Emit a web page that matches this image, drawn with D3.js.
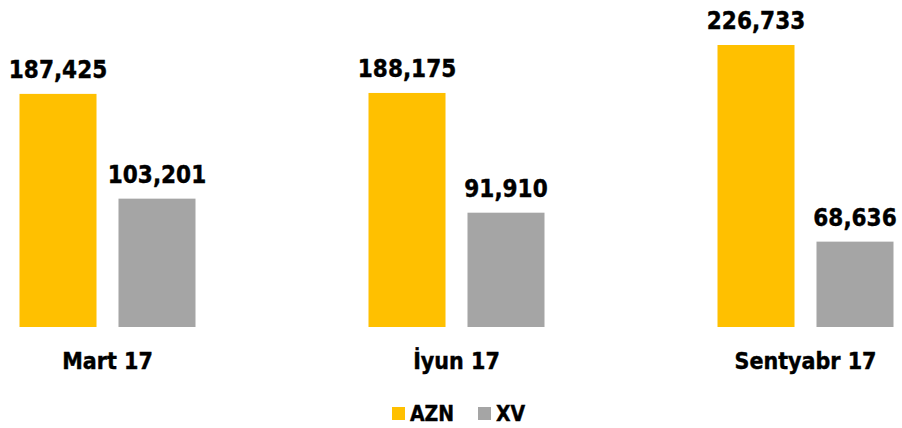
<!DOCTYPE html>
<html>
<head>
<meta charset="utf-8">
<script src="https://cdn.jsdelivr.net/npm/d3@7"></script>
<style>
  body { margin: 0; background: #fff; }
  text { font-family: "DejaVu Sans Condensed", "DejaVu Sans", sans-serif; font-weight: bold; fill: #000; stroke: #000; stroke-width: 0.4px; }
</style>
</head>
<body>
<div id="chart"></div>
<script>
var width = 902,
    height = 428;

var categories = ["Mart 17", "İyun 17", "Sentyabr 17"];
var seriesNames = ["AZN", "XV"];
var aznValues = [187425, 188175, 226733];
var xvValues = [103201, 91910, 68636];
var colors = ["#FFC000", "#A5A5A5"];

var rows = categories.map(function (c, i) {
  return { cat: c, values: [aznValues[i], xvValues[i]] };
});

var svg = d3.select("#chart").append("svg")
    .attr("width", width)
    .attr("height", height);

// group centres, then the two bars inside each group
var x = d3.scalePoint()
    .domain(categories)
    .range([107.5, 805.5]);

var xSub = d3.scaleBand()
    .domain(seriesNames)
    .range([-88, 88])
    .paddingInner(0.222);

var y = d3.scaleLinear()
    .domain([0, 226733])
    .range([327, 45]);

var fmt = d3.format(",");

var groups = svg.selectAll("g.group")
  .data(rows)
  .enter().append("g")
    .attr("class", "group")
    .attr("transform", function (d) { return "translate(" + x(d.cat) + ",0)"; });

var bars = groups.selectAll("g.bar")
  .data(function (d) { return d.values.map(function (v, i) { return { name: seriesNames[i], value: v, i: i }; }); })
  .enter().append("g")
    .attr("class", "bar");

bars.append("rect")
    .attr("x", function (d) { return xSub(d.name); })
    .attr("y", function (d) { return y(d.value); })
    .attr("width", xSub.bandwidth())
    .attr("height", function (d) { return y(0) - y(d.value); })
    .attr("fill", function (d) { return colors[d.i]; });

bars.append("text")
    .attr("x", function (d) { return xSub(d.name) + xSub.bandwidth() / 2; })
    .attr("y", function (d) { return y(d.value) - 16; })
    .attr("text-anchor", "middle")
    .style("font-size", "24px")
    .text(function (d) { return fmt(d.value); });

// category labels
groups.append("text")
    .attr("x", 0)
    .attr("y", 369)
    .attr("text-anchor", "middle")
    .style("font-size", "23px")
    .text(function (d) { return d.cat; });

// legend
var legend = svg.append("g").attr("transform", "translate(392,407)");
var legendX = [0, 86];
var items = legend.selectAll("g")
  .data(seriesNames)
  .enter().append("g")
    .attr("transform", function (d, i) { return "translate(" + legendX[i] + ",0)"; });

items.append("rect")
    .attr("width", 13)
    .attr("height", 13)
    .attr("fill", function (d, i) { return colors[i]; });

items.append("text")
    .attr("x", 18)
    .attr("y", 14)
    .style("font-size", "21px")
    .text(function (d) { return d; });
</script>
</body>
</html>
